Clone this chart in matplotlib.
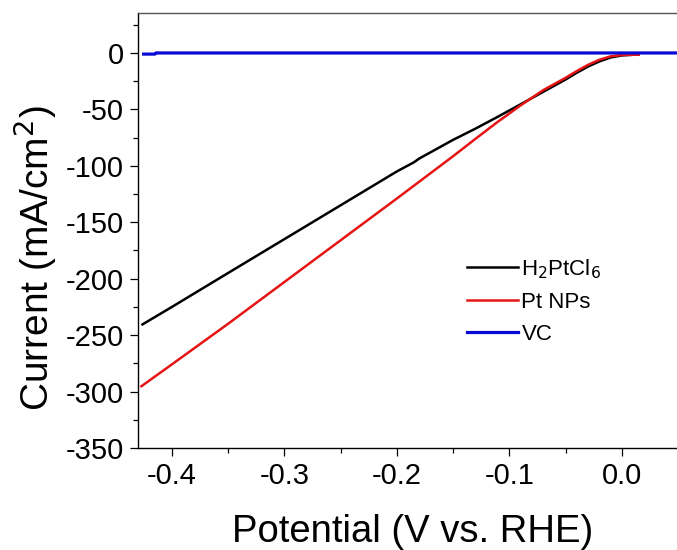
import matplotlib
matplotlib.use("Agg")
import matplotlib.pyplot as plt
from matplotlib.ticker import MultipleLocator

plt.rcParams["font.family"] = ["Liberation Sans", "DejaVu Sans"]

# --- data ---
h2ptcl6_x = [-0.426, -0.40, -0.35, -0.30, -0.25, -0.20, -0.185, -0.18, -0.17, -0.15,
             -0.13, -0.11, -0.09, -0.07, -0.05, -0.04, -0.03, -0.02, -0.01, 0.0, 0.01, 0.015]
h2ptcl6_y = [-240.5, -225.1, -195, -165, -135, -105, -97, -93.5, -88, -77,
             -67, -56.4, -45.5, -34.5, -23.5, -17.5, -12, -7.5, -4, -2.2, -1.6, -1.5]

ptnps_x = [-0.427, -0.40, -0.35, -0.30, -0.25, -0.20, -0.15, -0.13, -0.11, -0.09,
           -0.07, -0.05, -0.04, -0.03, -0.02, -0.01, 0.0, 0.015]
ptnps_y = [-295.3, -276, -240, -203, -166, -129, -91.5, -76, -60.8, -46.5,
           -33, -22, -16, -10.5, -6, -3, -1.8, -1.5]

vc_x = [-0.425, -0.415, -0.414, 0.049]
vc_y = [-1, -1, 0, 0]

labels = ["H$_2$PtCl$_6$", "Pt NPs", "VC"]

fig = plt.figure(figsize=(6.77, 5.5), dpi=100)
ax = fig.add_axes([138 / 677, 1 - 448 / 550, 1 - 138 / 677, (448 - 13) / 550])

ax.plot(h2ptcl6_x, h2ptcl6_y, color="black", lw=1.8, label=labels[0])
ax.plot(ptnps_x, ptnps_y, color="#e51515", lw=1.8, label=labels[1])
ax.plot(vc_x, vc_y, color="#0a0ad8", lw=2.3, label=labels[2])

ax.set_xlim(-0.430, 0.049)
ax.set_ylim(-350, 35.4)

ax.xaxis.set_major_locator(MultipleLocator(0.1))
ax.xaxis.set_minor_locator(MultipleLocator(0.05))
ax.yaxis.set_major_locator(MultipleLocator(50))
ax.yaxis.set_minor_locator(MultipleLocator(25))
ax.set_xticks([-0.4, -0.3, -0.2, -0.1, 0.0])
ax.set_xticklabels(["-0.4", "-0.3", "-0.2", "-0.1", "0.0"])
ax.set_yticks([0, -50, -100, -150, -200, -250, -300, -350])
ax.set_yticklabels(["0", "-50", "-100", "-150", "-200", "-250", "-300", "-350"])

ax.tick_params(which="major", direction="out", length=6, width=0.9, labelsize=21, pad=4)
ax.tick_params(which="minor", direction="out", length=3.5, width=0.9)
ax.tick_params(top=False, right=False, which="both")

ax.spines["right"].set_visible(False)
ax.spines["top"].set_color("#555555")
for s in ["left", "bottom", "top"]:
    ax.spines[s].set_linewidth(1.0)

fig.text(35 / 677, 1 - 258 / 550, "Current (mA/cm$^2$)", rotation=90,
         ha="center", va="center", fontsize=28)
fig.text(413 / 677, 1 - 532 / 550, "Potential (V vs. RHE)",
         ha="center", va="center", fontsize=27.5)

ax.legend(loc="upper left", bbox_to_anchor=(467 / 677, 1 - 257 / 550),
          bbox_transform=fig.transFigure, frameon=False, fontsize=16,
          handlelength=2.3, handletextpad=0.15, borderpad=0, borderaxespad=0,
          labelspacing=0.5)

fig.savefig("out.png", dpi=100)
